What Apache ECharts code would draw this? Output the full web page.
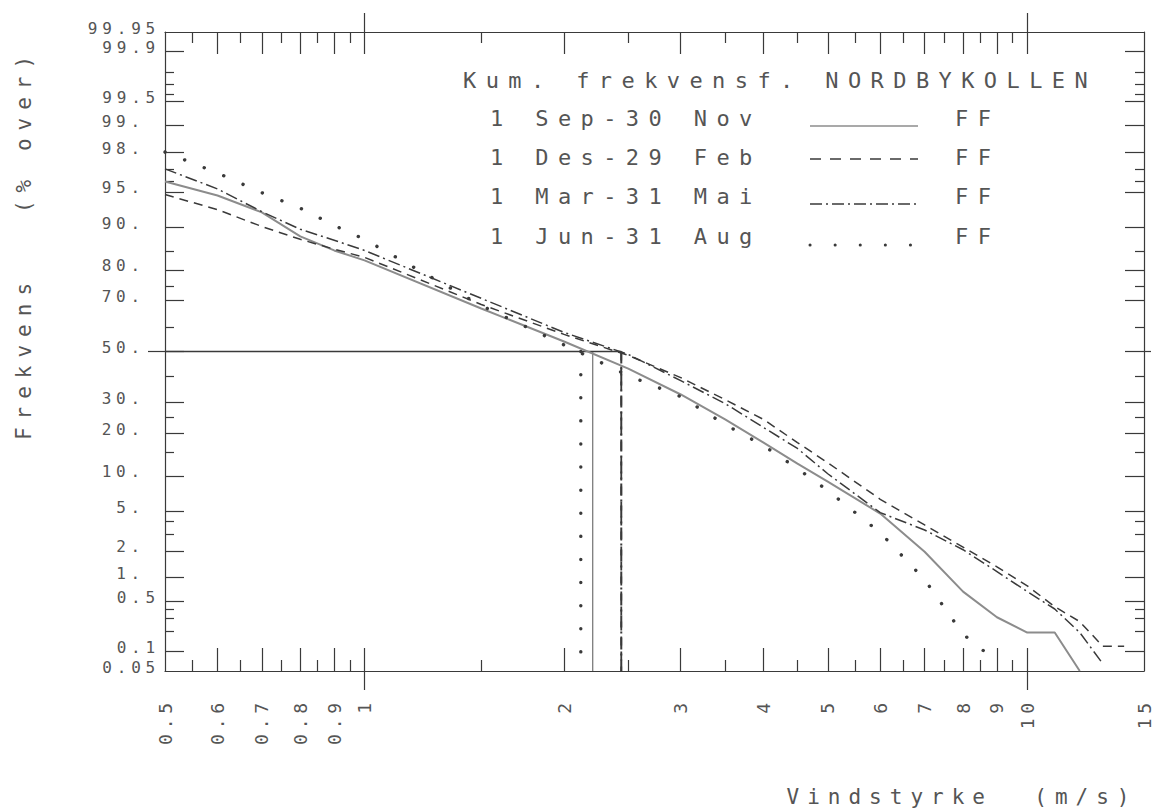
<!DOCTYPE html>
<html><head><meta charset="utf-8">
<style>
html,body{margin:0;padding:0;background:#fff;}
#chart{width:1153px;height:812px;}
#chart text{white-space:pre;}
#chart text[style*="16px"]{letter-spacing:4.8px;}
#chart text[style*="18px"]{letter-spacing:4.8px;}
#chart text[style*="21px"]{letter-spacing:8px;}
#chart text[style*="22px"]{letter-spacing:9.4px;}
</style>
<script src="https://cdn.jsdelivr.net/npm/echarts@6/dist/echarts.min.js"></script>
</head><body><div id="chart"></div>
<script>
// ---- data (wind speed m/s, cumulative % exceedance) ----
const windSpeed = [0.5,0.6,0.7,0.8,0.9,1,1.5,2,2.5,3,3.5,4,4.5,5,6,7,8,9,10,11,12,13,14];
const sepNov = [96.0,94.6,92.4,88.2,85.1,82.6,67.1,54.1,43.0,32.9,24.2,17.4,12.4,9.0,4.75,1.96,0.67,0.31,0.19,0.19,0.05];
const desFeb = [94.7,92.8,90.1,87.6,85.4,83.4,68.6,57.0,48.4,39.4,31.0,24.2,17.4,12.6,6.4,3.7,2.2,1.33,0.79,0.43,0.27,0.12,0.12];
const marMai = [97.0,95.3,92.5,89.6,87.4,85.1,70.8,57.8,48.8,38.2,29.6,21.7,15.9,10.4,4.85,3.3,2.06,1.17,0.67,0.40,0.19,0.065];
const junAug = [98.0,96.7,94.9,93.0,90.3,87.6,68.2,52.7,40.2,32.1,22.6,16.6,11.4,7.6,3.1,0.94,0.18,0.07];
const seriesNames = ['1 Sep-30 Nov','1 Des-29 Feb','1 Mar-31 Mai','1 Jun-31 Aug'];
const medians = [2.21,2.44,2.44,2.12];
const medianLevel = 50;

// ---- axis ticks / labels ----
const xLabels = ['0.5','0.6','0.7','0.8','0.9','1','2','3','4','5','6','7','8','9','10','15'];
const xTicksTall = [0.6,0.7,0.8,0.9,1,2,3,4,5,6,7,8,9,10];
const xTicksShort = [0.55,0.65,0.75,0.85,0.95,1.5,2.5,3.5,4.5,5.5,6.5,7.5,8.5,9.5];
const xTicksMajor = [1,10];
const yLabelsA = ['99.95','99.9','99.5','0.5','0.1','0.05'];
const yLabelsB = ['99.','98.','95.','90.','80.','70.','50.','30.','20.','10.','5.','2.','1.'];
const yTicksLong = [99.9,99.5,99,98,95,90,80,70,50,30,20,10,5,2,1,0.5,0.1];
const yTicksShort = [99.8,99.7,99.6,97,96,85,75,60,40,25,15,4,3,0.4,0.3,0.2];
const xMinV = 0.5, xMaxV = 15, yMinP = 0.05, yMaxP = 99.95;

// inverse normal CDF (probability paper)
function probit(p){
  const a=[-3.969683028665376e+01,2.209460984245205e+02,-2.759285104469687e+02,1.383577518672690e+02,-3.066479806614716e+01,2.506628277459239e+00];
  const b=[-5.447609879822406e+01,1.615858368580409e+02,-1.556989798598866e+02,6.680131188771972e+01,-1.328068155288572e+01];
  const c=[-7.784894002430293e-03,-3.223964580411365e-01,-2.400758277161838e+00,-2.549732539343734e+00,4.374664141464968e+00,2.938163982698783e+00];
  const d=[7.784695709041462e-03,3.224671290700398e-01,2.445134137142996e+00,3.754408661907416e+00];
  const pl=0.02425, ph=1-pl; let q,r;
  if(p<pl){q=Math.sqrt(-2*Math.log(p));return (((((c[0]*q+c[1])*q+c[2])*q+c[3])*q+c[4])*q+c[5])/((((d[0]*q+d[1])*q+d[2])*q+d[3])*q+1);}
  if(p<=ph){q=p-0.5;r=q*q;return (((((a[0]*r+a[1])*r+a[2])*r+a[3])*r+a[4])*r+a[5])*q/(((((b[0]*r+b[1])*r+b[2])*r+b[3])*r+b[4])*r+1);}
  q=Math.sqrt(-2*Math.log(1-p));return -(((((c[0]*q+c[1])*q+c[2])*q+c[3])*q+c[4])*q+c[5])/((((d[0]*q+d[1])*q+d[2])*q+d[3])*q+1);
}
const X = v => Math.log10(v);
const Y = p => probit(p/100);
const toData = (xs, ps) => ps.map((p,i)=>[X(xs[i]), Y(p)]);
function labelFmt(list, fn){
  return function(val){ let best='', bd=1e9; list.forEach(s=>{const dd=Math.abs(fn(parseFloat(s))-val); if(dd<bd){bd=dd;best=s;}}); return best; };
}

const INK='#3a3a3a', TXT='#555', MONO='DejaVu Sans Mono';
const xmin=X(xMinV), xmax=X(xMaxV), ymin=Y(yMinP), ymax=Y(yMaxP);

function xAx(pos, showLine, tick, label){
  return {type:'value', position:pos, min:xmin, max:xmax, gridIndex:0,
    axisLine:{show:showLine,onZero:false,lineStyle:{color:INK,width:1.2}},
    splitLine:{show:false},
    axisTick: tick ? Object.assign({show:true,lineStyle:{color:INK,width:1.2}},tick) : {show:false},
    axisLabel: label ? label : {show:false}};
}
function yAx(pos, showLine, tick, label){
  return {type:'value', position:pos, min:ymin, max:ymax, gridIndex:0,
    axisLine:{show:showLine,onZero:false,lineStyle:{color:INK,width:1.2}},
    splitLine:{show:false},
    axisTick: tick ? Object.assign({show:true,lineStyle:{color:INK,width:1.2}},tick) : {show:false},
    axisLabel: label ? label : {show:false}};
}

const xAxes = [
  xAx('bottom', true, {inside:true,length:23,customValues:xTicksTall.map(X)},
      {show:true,customValues:xLabels.map(X),rotate:90,margin:27,color:TXT,fontFamily:MONO,fontSize:18,formatter:labelFmt(xLabels,X)}),
  xAx('bottom', false, {inside:true,length:11,customValues:xTicksShort.map(X)}),
  xAx('bottom', false, {inside:false,length:19,customValues:xTicksMajor.map(X)}),
  xAx('top', true, {inside:true,length:22,customValues:xTicksTall.map(X)}),
  xAx('top', false, {inside:true,length:11,customValues:xTicksShort.map(X)}),
  xAx('top', false, {inside:false,length:19,customValues:xTicksMajor.map(X)})
];
const yAxes = [
  yAx('left', true, {inside:true,length:19,customValues:yTicksLong.map(Y)},
      {show:true,customValues:yLabelsA.map(s=>Y(parseFloat(s))),margin:5,verticalAlign:'bottom',lineHeight:8,color:TXT,fontFamily:MONO,fontSize:16,formatter:labelFmt(yLabelsA,Y)}),
  yAx('left', false, {inside:true,length:9,customValues:yTicksShort.map(Y)},
      {show:true,customValues:yLabelsB.map(s=>Y(parseFloat(s))),margin:20,verticalAlign:'bottom',lineHeight:8,color:TXT,fontFamily:MONO,fontSize:16,formatter:labelFmt(yLabelsB,Y)}),
  yAx('left', false, {inside:false,length:17,customValues:[Y(medianLevel)]}),
  yAx('right', true, {inside:true,length:19,customValues:yTicksLong.map(Y)}),
  yAx('right', false, {inside:true,length:9,customValues:yTicksShort.map(Y)}),
  yAx('right', false, {inside:false,length:7,customValues:[Y(medianLevel)]})
];

const styles = [
  {color:'#8c8c8c', width:2, type:'solid'},
  {color:INK, width:1.5, type:[9,6]},
  {color:INK, width:1.5, type:[12,4,2,4]},
  {color:INK, width:3.4, type:[0.1,21], cap:'round'}
];
const vStyles = [
  {color:'#555', width:1, type:'solid'},
  {color:INK, width:1.8, type:[9,6]},
  {color:INK, width:2, type:[12,4,2,4]},
  {color:INK, width:3.4, type:[0.1,23], cap:'round'}
];
const allData = [sepNov, desFeb, marMai, junAug];
const series = [];
allData.forEach((vals,i)=>{
  series.push({name:seriesNames[i], type:'line', data:toData(windSpeed, vals), showSymbol:false, symbol:'none',
    lineStyle:styles[i], silent:true, z:3});
});
medians.forEach((m,i)=>{
  series.push({name:seriesNames[i]+' median', type:'line', data:[[X(m),Y(medianLevel)],[X(m),Y(yMinP)]],
    showSymbol:false, symbol:'none', lineStyle:vStyles[i], silent:true, z:2});
});
series.push({name:'50%', type:'line', data:[[X(xMinV),Y(medianLevel)],[X(Math.max.apply(null,medians)),Y(medianLevel)]],
  showSymbol:false, symbol:'none', lineStyle:{color:INK,width:1.6}, silent:true, z:2});

// legend block (custom layout as in the original plot)
const legRowsY = [118,157,196,236];
const legSamples = [
  {y:8, style:{stroke:'#555',lineWidth:1.2}},
  {y:2, style:{stroke:INK,lineWidth:1.5,lineDash:[11,9]}},
  {y:8, style:{stroke:INK,lineWidth:1.3,lineDash:[12,4,2,4]}},
  {y:9, style:{stroke:INK,lineWidth:3,lineDash:[0.1,25],lineCap:'round'}}
];
const graphic = [
  {type:'text', x:463, y:80, style:{text:'Kum. frekvensf. NORDBYKOLLEN', fontFamily:MONO, fontSize:22, fill:TXT, verticalAlign:'middle', align:'left'}},
  {type:'text', x:962, y:797, style:{text:'Vindstyrke  (m/s)', fontFamily:MONO, fontSize:21, fill:TXT, verticalAlign:'middle', align:'center'}},
  {type:'text', x:24, y:244, rotation:Math.PI/2, style:{text:'Frekvens   (% over)', fontFamily:MONO, fontSize:21, fill:TXT, verticalAlign:'middle', align:'center'}}
];
seriesNames.forEach((nm,i)=>{
  const y = legRowsY[i];
  graphic.push({type:'text', x:490, y:y, style:{text:nm, fontFamily:MONO, fontSize:22, fill:TXT, verticalAlign:'middle', align:'left'}});
  graphic.push({type:'line', shape:{x1:810,y1:y+legSamples[i].y,x2:918,y2:y+legSamples[i].y}, style:legSamples[i].style});
  graphic.push({type:'text', x:955, y:y, style:{text:'FF', fontFamily:MONO, fontSize:22, fill:TXT, verticalAlign:'middle', align:'left'}});
});

const chart = echarts.init(document.getElementById('chart'), null, {renderer:'svg'});
chart.setOption({
  animation:false,
  backgroundColor:'#fff',
  grid:{left:165, right:9, top:32, bottom:141, containLabel:false, outerBoundsMode:'none'},
  xAxis:xAxes, yAxis:yAxes, series:series, graphic:graphic
});
</script></body></html>
